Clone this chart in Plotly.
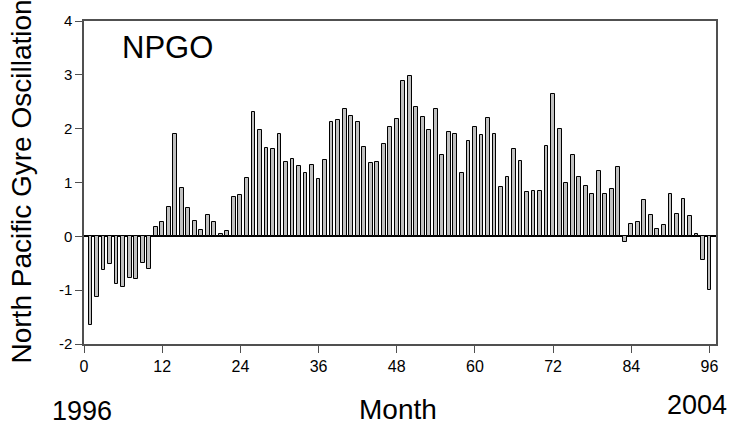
import plotly.graph_objects as go

# Monthly NPGO index, Jan 1996 (month 1) to Dec 2003 (month 96)
months = list(range(1, 97))
npgo = [
    -1.65, -1.12, -0.62, -0.51, -0.88, -0.95, -0.77, -0.79, -0.49, -0.60, 0.17, 0.26,
    0.54, 1.91, 0.90, 0.52, 0.28, 0.12, 0.40, 0.27, 0.05, 0.10, 0.73, 0.77,
    1.09, 2.31, 1.98, 1.65, 1.62, 1.91, 1.38, 1.44, 1.30, 1.18, 1.32, 1.06,
    1.41, 2.13, 2.16, 2.37, 2.23, 2.12, 1.66, 1.37, 1.39, 1.71, 2.03, 2.18,
    2.88, 2.98, 2.40, 2.22, 1.97, 2.37, 1.51, 1.93, 1.91, 1.17, 1.78, 2.03,
    1.88, 2.19, 1.91, 0.91, 1.11, 1.62, 1.40, 0.82, 0.84, 0.84, 1.67, 2.65,
    1.99, 1.00, 1.51, 1.11, 0.93, 0.78, 1.21, 0.79, 0.88, 1.29, -0.11, 0.23,
    0.27, 0.68, 0.40, 0.13, 0.21, 0.78, 0.42, 0.69, 0.38, 0.05, -0.44, -0.99,
]
x_ticks = [0, 12, 24, 36, 48, 60, 72, 84, 96]
y_ticks = [-2, -1, 0, 1, 2, 3, 4]

FONT = "Liberation Sans, Arial, sans-serif"
AXIS = "#505050"

fig = go.Figure(
    go.Bar(
        x=months,
        y=npgo,
        width=0.58,
        marker=dict(color="#c0c0c0", line=dict(color="#000000", width=1)),
        hoverinfo="x+y",
    )
)

fig.update_layout(
    width=738,
    height=431,
    margin=dict(l=84, r=22, t=16, b=87),
    paper_bgcolor="white",
    plot_bgcolor="white",
    showlegend=False,
    font=dict(family=FONT, color="black"),
    bargap=0,
)

fig.update_xaxes(
    range=[0, 97],
    tickmode="array",
    tickvals=x_ticks,
    ticktext=[str(v) for v in x_ticks],
    ticks="outside",
    ticklen=7,
    tickcolor=AXIS,
    tickfont=dict(size=16, family=FONT),
    showline=True,
    linecolor=AXIS,
    linewidth=1.5,
    mirror=True,
    showgrid=False,
    zeroline=False,
)

fig.update_yaxes(
    range=[-2, 4],
    tickmode="array",
    tickvals=y_ticks,
    ticktext=[str(v) for v in y_ticks],
    ticks="outside",
    ticklen=7,
    tickcolor=AXIS,
    tickfont=dict(size=15, family=FONT),
    showline=True,
    linecolor=AXIS,
    linewidth=1.5,
    mirror=True,
    showgrid=False,
    zeroline=True,
    zerolinecolor="#000000",
    zerolinewidth=1.5,
)

annotations = [
    dict(text="NPGO", x=167, y=43, size=31),
    dict(text="1996", x=82, y=412, size=27),
    dict(text="Month", x=398, y=411, size=28),
    dict(text="2004", x=697, y=406, size=27),
]
for a in annotations:
    fig.add_annotation(
        text=a["text"],
        xref="paper", yref="paper",
        x=(a["x"] - 84) / 632, y=(344 - a["y"]) / 328,
        xanchor="center", yanchor="middle",
        showarrow=False,
        font=dict(size=a["size"], family=FONT, color="black"),
    )

fig.add_annotation(
    text="North Pacific Gyre Oscillation",
    xref="paper", yref="paper",
    x=(22 - 84) / 632, y=(344 - 179) / 328,
    xanchor="center", yanchor="middle",
    textangle=-90,
    showarrow=False,
    font=dict(size=28, family=FONT, color="black"),
)

fig.write_html("out.html")
